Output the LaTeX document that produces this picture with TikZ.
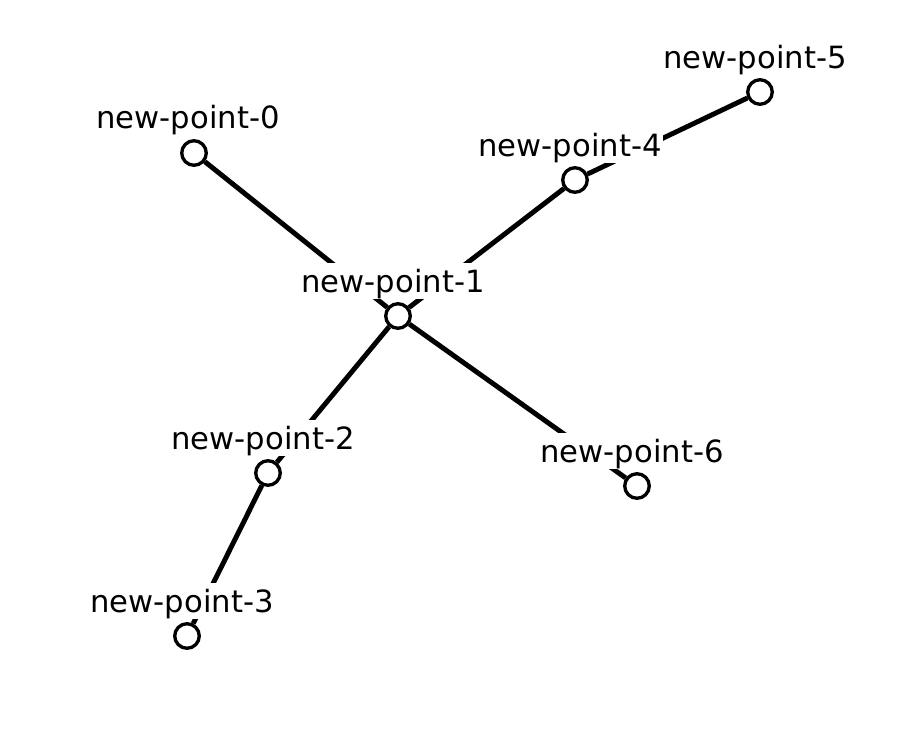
\documentclass[tikz,border=0pt]{standalone}
\usepackage{fontspec}
\setmainfont{DejaVu Sans}
\usepackage{tikz}

\begin{document}
\begin{tikzpicture}[x=0.75pt,y=-0.75pt,
    vertex/.style={circle,draw,line width=2.5pt,fill=white,inner sep=0pt,minimum size=18.4pt},
    link/.style={line width=3.7pt},
    tag/.style={fill=white,inner sep=0pt,inner xsep=1pt,anchor=base,
      font=\fontsize{23pt}{27pt}\selectfont,text height=22pt,text depth=5.5pt}]
    \useasboundingbox (0,0) rectangle (910,750);
    \node[vertex] (p0) at (194,153) {};
    \node[vertex] (p1) at (398,316) {};
    \node[vertex] (p2) at (268,473) {};
    \node[vertex] (p3) at (187,636) {};
    \node[vertex] (p4) at (575,180) {};
    \node[vertex] (p5) at (760,92) {};
    \node[vertex] (p6) at (637,486) {};
    \draw[link] (p0) -- (p1);
    \draw[link] (p1) -- (p4);
    \draw[link] (p4) -- (p5);
    \draw[link] (p1) -- (p2);
    \draw[link] (p2) -- (p3);
    \draw[link] (p1) -- (p6);
    \node[tag] (t0) at (188,128) {new-point-0};
    \node[tag] (t1) at (393,292) {new-point-1};
    \node[tag] (t2) at (263,449) {new-point-2};
    \node[tag] (t3) at (182,612) {new-point-3};
    \node[tag] (t4) at (570,156) {new-point-4};
    \node[tag] (t5) at (755,68) {new-point-5};
    \node[tag] (t6) at (632,462) {new-point-6};
  \end{tikzpicture}
\end{document}
